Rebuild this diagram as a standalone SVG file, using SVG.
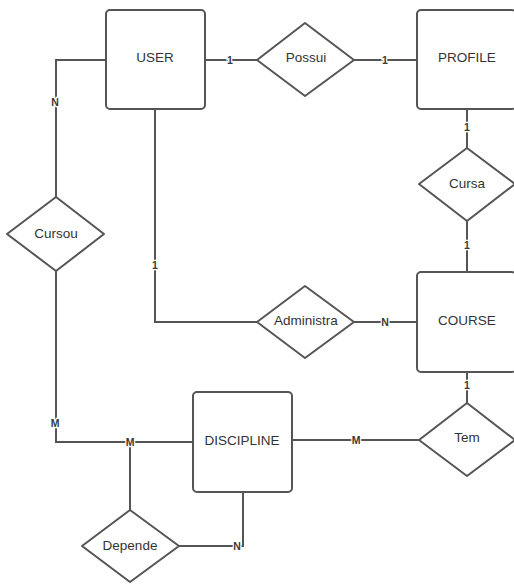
<svg xmlns="http://www.w3.org/2000/svg" width="514" height="584" viewBox="0 0 514 584">
<style>
.box{fill:#fff;stroke:#555;stroke-width:2}
.dia{fill:#fff;stroke:#555;stroke-width:2;stroke-linejoin:round}
.ln{fill:none;stroke:#555;stroke-width:2}
.t{font-family:"Liberation Sans",Arial,sans-serif;font-size:13.5px;fill:#333;text-anchor:middle;dominant-baseline:central}
.c{font-family:"Liberation Sans",Arial,sans-serif;font-size:10.5px;font-weight:bold;fill:#3a3a3a;text-anchor:middle;dominant-baseline:central;stroke:#fff;stroke-width:2.5;paint-order:stroke}
</style>
<rect width="514" height="584" fill="#fff"/>
<g id="connectors">
<path class="ln" d="M205 60H257"/>
<path class="ln" d="M354 60H417"/>
<path class="ln" d="M467 109V148"/>
<path class="ln" d="M467 221V272"/>
<path class="ln" d="M354 322H417"/>
<path class="ln" d="M155 109V322H257"/>
<path class="ln" d="M106 60H56V197"/>
<path class="ln" d="M56 271V442H193"/>
<path class="ln" d="M130 442V510"/>
<path class="ln" d="M179 546H243V492"/>
<path class="ln" d="M292 440H419"/>
<path class="ln" d="M467 372V403"/>
<text class="c" x="230" y="60">1</text>
<text class="c" x="385" y="60">1</text>
<text class="c" x="467" y="127">1</text>
<text class="c" x="467" y="245">1</text>
<text class="c" x="385" y="322">N</text>
<text class="c" x="155" y="265">1</text>
<text class="c" x="55" y="102">N</text>
<text class="c" x="55" y="423">M</text>
<text class="c" x="130" y="442">M</text>
<text class="c" x="237" y="546">N</text>
<text class="c" x="356" y="440">M</text>
<text class="c" x="467" y="385">1</text>
</g>
<g id="user"><rect class="box" x="106" y="10" width="99" height="99" rx="4"/><text class="t" x="155" y="57">USER</text></g>
<g id="profile"><rect class="box" x="417" y="10" width="99" height="99" rx="4"/><text class="t" x="467" y="57">PROFILE</text></g>
<g id="course"><rect class="box" x="417" y="272" width="99" height="100" rx="4"/><text class="t" x="467" y="320">COURSE</text></g>
<g id="discipline"><rect class="box" x="193" y="392" width="99" height="100" rx="4"/><text class="t" x="242" y="440">DISCIPLINE</text></g>
<g id="possui"><path class="dia" d="M305 23L354 60L305 96L257 60Z"/><text class="t" x="306" y="57">Possui</text></g>
<g id="cursa"><path class="dia" d="M467 148L515 184L467 221L419 184Z"/><text class="t" x="467" y="183">Cursa</text></g>
<g id="administra"><path class="dia" d="M305 286L354 322L305 358L257 322Z"/><text class="t" x="306" y="320">Administra</text></g>
<g id="cursou"><path class="dia" d="M56 197L104 234L56 271L7 234Z"/><text class="t" x="56" y="233">Cursou</text></g>
<g id="tem"><path class="dia" d="M467 403L515 440L467 476L419 440Z"/><text class="t" x="467" y="437">Tem</text></g>
<g id="depende"><path class="dia" d="M130 510L179 546L130 582L82 546Z"/><text class="t" x="130" y="545">Depende</text></g>
</svg>
